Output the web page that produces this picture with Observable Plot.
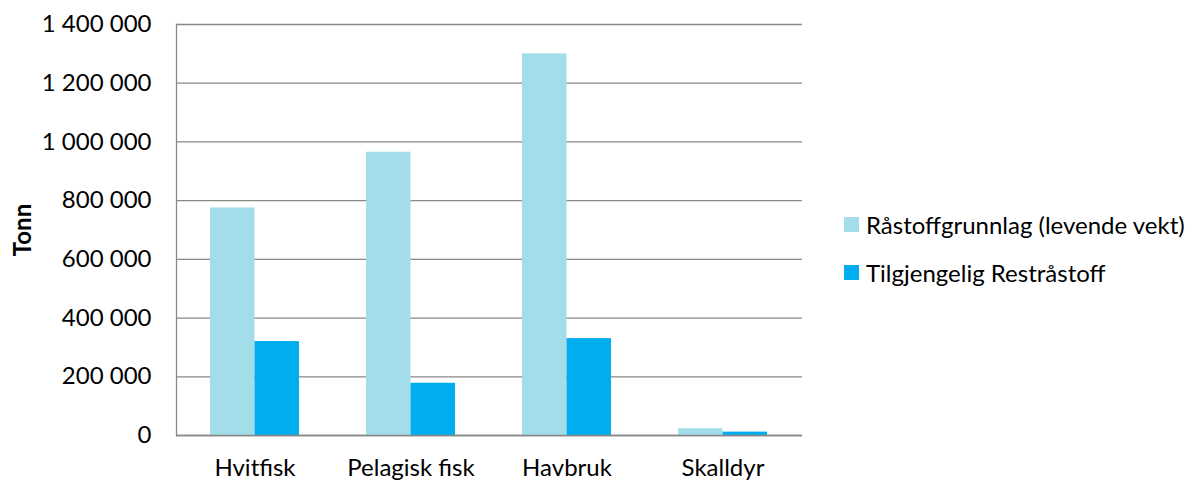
<!DOCTYPE html>
<html><head><meta charset="utf-8">
<script src="https://cdn.jsdelivr.net/npm/d3@7"></script>
<script src="https://cdn.jsdelivr.net/npm/@observablehq/plot@0.6"></script>
<style>
body{margin:0;background:#fff;}
#wrap{position:relative;width:1200px;height:481px;overflow:hidden;font-family:Lato,sans-serif;color:#000;}
#legend .item{position:absolute;left:844px;height:30px;display:flex;align-items:center;font-size:24px;white-space:nowrap;}
#legend .sw{width:15px;height:15px;margin-right:7px;flex:none;}
</style></head><body><div id="wrap"><div id="legend"></div></div>
<script>
const categories = ["Hvitfisk", "Pelagisk fisk", "Havbruk", "Skalldyr"];
const seriesNames = ["Råstoffgrunnlag (levende vekt)", "Tilgjengelig Restråstoff"];
const raastoff = [775000, 965000, 1300000, 23000];
const restraastoff = [320000, 178000, 330000, 11500];
const yTicks = [0, 200000, 400000, 600000, 800000, 1000000, 1200000, 1400000];
const colors = ["#A3DDE9", "#00AEEF"];

const rows1 = categories.map((c, i) => ({category: c, value: raastoff[i]}));
const rows2 = categories.map((c, i) => ({category: c, value: restraastoff[i]}));

const fmt = d3.formatLocale({decimal: ",", thousands: " ", grouping: [3], currency: ["", ""]}).format(",d");

const base = {
  width: 1200, height: 481,
  marginLeft: 176, marginRight: 398, marginTop: 24, marginBottom: 46,
  style: {fontFamily: "Lato, sans-serif", fontSize: "24px", color: "#000", background: "#fff"},
  x: {domain: categories, paddingInner: 0.429, paddingOuter: 0.215, label: null, tickSize: 0, tickPadding: 23},
  y: {domain: [0, 1400000]}
};

// probe the library's band scale to split each band into two bars
const probe = Plot.plot({...base, marks: [Plot.barY(rows1, {x: "category", y: "value"})]});
const half = probe.scale("x").bandwidth / 2;

const chart = Plot.plot({
  ...base,
  marks: [
    Plot.gridY(yTicks, {stroke: "#888", strokeOpacity: 1, strokeWidth: 1.3}),
    Plot.frame({anchor: "left", stroke: "#888", strokeWidth: 1.3}),
    Plot.barY(rows1, {x: "category", y: "value", fill: colors[0], insetRight: half}),
    Plot.barY(rows2, {x: "category", y: "value", fill: colors[1], insetLeft: half}),
    Plot.ruleY([0], {stroke: "#888", strokeWidth: 1.5}),
    Plot.axisY(yTicks, {tickSize: 0, tickPadding: 25, tickFormat: fmt,
      label: "Tonn", labelAnchor: "center", labelArrow: "none", labelOffset: 163}),
    Plot.axisX({tickSize: 0, tickPadding: 23, label: null})
  ]
});

d3.select(chart).selectAll('[aria-label="y-axis label"]').attr("font-weight", "bold").attr("font-size", "24px");
document.getElementById("wrap").prepend(chart);

const legend = document.getElementById("legend");
seriesNames.forEach((s, i) => {
  const item = document.createElement("div");
  item.className = "item";
  item.style.top = (209.5 + i * 48) + "px";
  const sw = document.createElement("div");
  sw.className = "sw";
  sw.style.background = colors[i];
  const t = document.createElement("span");
  t.textContent = s;
  item.append(sw, t);
  legend.append(item);
});
</script></body></html>
